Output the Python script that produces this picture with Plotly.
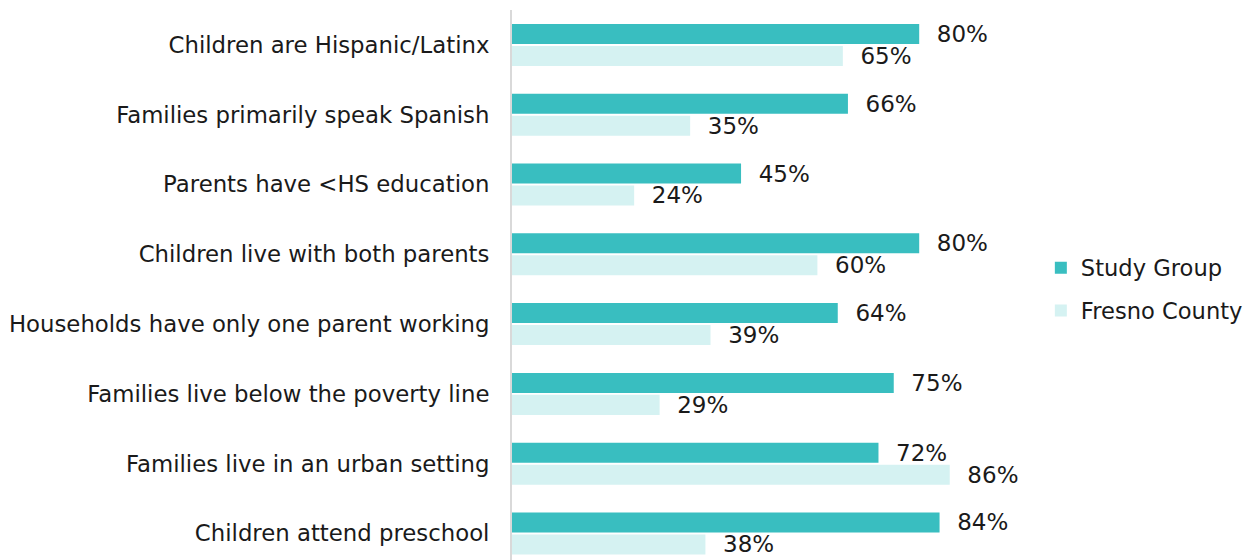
import plotly.graph_objects as go

categories = [
    "Children are Hispanic/Latinx",
    "Families primarily speak Spanish",
    "Parents have <HS education",
    "Children live with both parents",
    "Households have only one parent working",
    "Families live below the poverty line",
    "Families live in an urban setting",
    "Children attend preschool",
]
study_group = [80, 66, 45, 80, 64, 75, 72, 84]
fresno_county = [65, 35, 24, 60, 39, 29, 86, 38]

TEAL = "#39BEC0"
LIGHT = "#D5F2F2"
FONT = "DejaVu Sans, Verdana, sans-serif"
TXT = "#1a1a1a"
SIZE = 23

series = [
    ("Study Group", study_group, TEAL, "legend", 0.531),
    ("Fresno County", fresno_county, LIGHT, "legend2", 0.453),
]

fig = go.Figure()
for name, vals, color, leg, _ in series:
    fig.add_trace(go.Bar(
        name=name,
        y=categories,
        x=vals,
        orientation="h",
        marker=dict(color=color, line=dict(width=0)),
        text=[f"\u00a0\u00a0{v}%" for v in vals],
        textposition="outside",
        constraintext="none",
        cliponaxis=False,
        textfont=dict(family=FONT, size=SIZE, color=TXT),
        hoverinfo="skip",
        legend=leg,
    ))

legend_style = dict(
    x=1.039, xanchor="left",
    yanchor="middle",
    font=dict(family=FONT, size=22.6, color=TXT),
    itemwidth=30,
    bgcolor="rgba(0,0,0,0)",
)

fig.update_layout(
    width=1247,
    height=560,
    barmode="group",
    bargap=0.37,
    bargroupgap=0.09,
    plot_bgcolor="white",
    paper_bgcolor="white",
    margin=dict(l=512, r=226, t=10, b=0, autoexpand=False),
    font=dict(family=FONT, size=SIZE, color=TXT),
    showlegend=True,
    legend=dict(y=series[0][4], **legend_style),
    legend2=dict(y=series[1][4], **legend_style),
    xaxis=dict(
        range=[0, 100],
        showgrid=False,
        zeroline=False,
        showticklabels=False,
        showline=False,
        ticks="",
    ),
    yaxis=dict(
        type="category",
        range=[7.38, -0.5],
        showgrid=False,
        zeroline=False,
        showline=True,
        linecolor="#D9D9D9",
        linewidth=2,
        ticks="",
        ticklabelstandoff=16,
        tickfont=dict(family=FONT, size=22.8, color=TXT),
    ),
)

fig.write_html("out.html")
